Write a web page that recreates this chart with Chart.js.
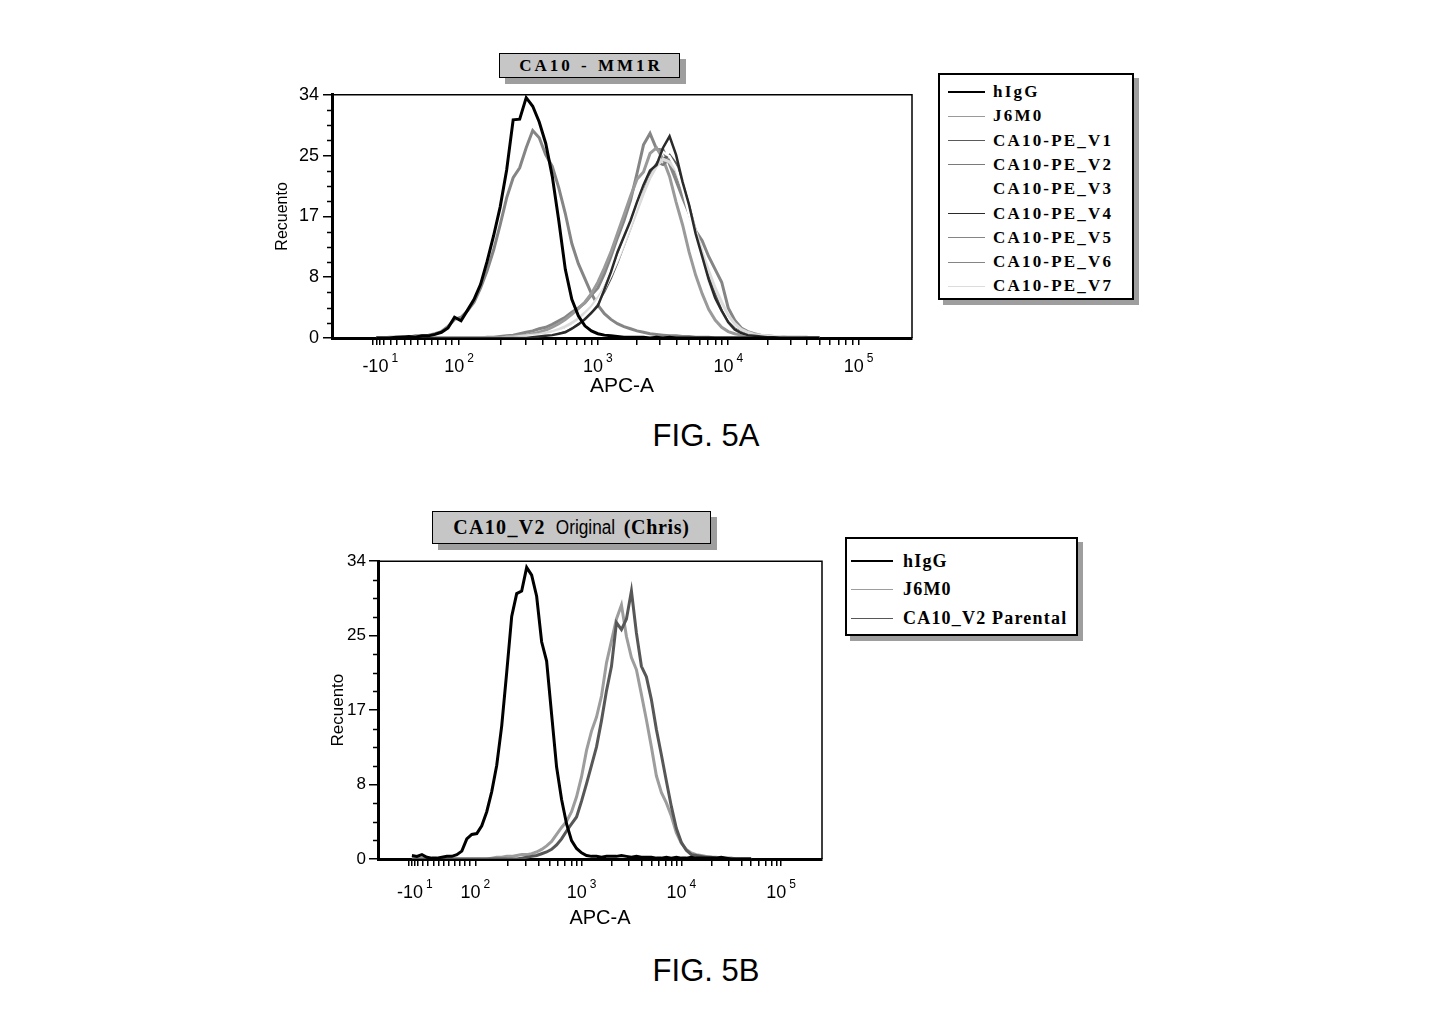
<!DOCTYPE html>
<html>
<head>
<meta charset="utf-8">
<script src="https://cdn.jsdelivr.net/npm/chart.js@4.4.1/dist/chart.umd.min.js"></script>
<style>
  body { margin: 0; background: #fff; width: 1433px; height: 1026px; position: relative; overflow: hidden;
         font-family: "Liberation Sans", Arial, sans-serif; color: #000; }
  canvas { position: absolute; }
  .titlebox { position: absolute; box-sizing: border-box; background: #c6c6c6; border: 1.5px solid #000;
              box-shadow: 6px 6px 0 #9e9e9e; display: flex; align-items: center; justify-content: center; white-space: nowrap; }
  .serifb { font-family: "Liberation Serif", "DejaVu Serif", serif; font-weight: bold; }
  .legend { position: absolute; box-sizing: border-box; background: #fff; border: 2px solid #000; box-shadow: 5px 5px 0 #9e9e9e; }
  .row { position: absolute; display: flex; align-items: center; white-space: nowrap; }
  .swatch { display: inline-block; height: 0; border-top-style: solid; }
  .fig { position: absolute; font-size: 31px; width: 300px; text-align: center; }
</style>
</head>
<body>

<div class="titlebox serifb" style="left:499px;top:53px;width:181px;height:25px;font-size:17px;letter-spacing:3px;word-spacing:1px;padding-left:3px;">CA10 - MM1R</div>
<canvas id="chartA" width="649" height="319" style="left:273px;top:80px;"></canvas>
<div id="legendA" class="legend" style="left:938px;top:73px;width:196px;height:227px;"></div>
<div class="fig" style="left:556px;top:418px;">FIG. 5A</div>

<div class="titlebox" style="left:432px;top:511px;width:279px;height:33px;">
  <span class="serifb" style="font-size:20px;letter-spacing:1.3px;">CA10_V2</span>
  <span style="font-size:20px;margin-left:5px;transform:scaleX(0.86);display:inline-block;">Original</span>
  <span class="serifb" style="font-size:20px;margin-left:4px;letter-spacing:0.7px;">(Chris)</span>
</div>
<canvas id="chartB" width="504" height="382" style="left:328px;top:548px;"></canvas>
<div id="legendB" class="legend" style="left:845px;top:537px;width:233px;height:99px;"></div>
<div class="fig" style="left:556px;top:953px;">FIG. 5B</div>

<script>
// histogram bin centres, in display units of the biexponential axis (10^3 = 3, 10^4 = 4 ...)
const binCenters = [1.30, 1.35, 1.40, 1.45, 1.50, 1.55, 1.60, 1.65, 1.70, 1.75,
  1.80, 1.85, 1.90, 1.95, 2.00, 2.05, 2.10, 2.15, 2.20, 2.25,
  2.30, 2.35, 2.40, 2.45, 2.50, 2.55, 2.60, 2.65, 2.70, 2.75,
  2.80, 2.85, 2.90, 2.95, 3.00, 3.05, 3.10, 3.15, 3.20, 3.25,
  3.30, 3.35, 3.40, 3.45, 3.50, 3.55, 3.60, 3.65, 3.70, 3.75,
  3.80, 3.85, 3.90, 3.95, 4.00, 4.05, 4.10, 4.15, 4.20, 4.25,
  4.30, 4.35, 4.40, 4.45, 4.50, 4.55, 4.60, 4.65, 4.70];

// axis ticks
const xMin = 0.96, xMax = 5.41;
const xMajorPos = [1.33, 1.935, 3, 4, 5];
const xMajorBase = ["-10", "10", "10", "10", "10"];
const xMajorExp = ["1", "2", "3", "4", "5"];
const xTickPos = [1.27, 1.30, 1.33, 1.36, 1.41, 1.46, 1.515, 1.565, 1.62, 1.67, 1.725, 1.775, 1.83, 1.88, 1.935,
  2.256, 2.443, 2.576, 2.679, 2.764, 2.835, 2.897, 2.951, 3,
  3.301, 3.477, 3.602, 3.699, 3.778, 3.845, 3.903, 3.954, 4,
  4.301, 4.477, 4.602, 4.699, 4.778, 4.845, 4.903, 4.954, 5];
const yMax = 34;
const yMajorPos = [0, 8.5, 17, 25.5, 34];
const yMajorLabels = ["0", "8", "17", "25", "34"];
const yMinorPos = [2.125, 4.25, 6.375, 10.625, 12.75, 14.875, 19.125, 21.25, 23.375, 27.625, 29.75, 31.875];

// FIG. 5A  (CA10 - MM1R)
const labelsA = ["hIgG", "J6M0", "CA10-PE_V1", "CA10-PE_V2", "CA10-PE_V3", "CA10-PE_V4", "CA10-PE_V5", "CA10-PE_V6", "CA10-PE_V7"];
const aHIgG = [0, 0, 0, 0.1, 0.1, 0.2, 0.1, 0.3, 0.3, 0.5,
  0.8, 1.4, 2.9, 2.4, 3.9, 5.4, 7.5, 10.7, 14.3, 18.3,
  23.5, 30.5, 30.6, 33.6, 32.4, 30.2, 27.2, 22.6, 16.4, 9.6,
  5.4, 3.1, 1.7, 1.0, 0.6, 0.4, 0.3, 0.2, 0.1, 0.1,
  0.1, 0.1, 0, 0.1, 0, 0.1, 0, 0, 0, 0,
  0, 0, 0, 0, 0, 0, 0, 0, 0, 0,
  0, 0, 0, 0, 0, 0, 0, 0, 0];
const aJ6M0 = [0, 0, 0, 0, 0, 0, 0, 0, 0, 0,
  0, 0, 0, 0, 0, 0, 0, 0, 0, 0,
  0.1, 0.2, 0.3, 0.4, 0.6, 0.8, 1.1, 1.5, 2.0, 2.6,
  3.3, 4.1, 5.0, 6.2, 7.8, 9.8, 12.0, 14.6, 17.2, 19.8,
  22.2, 23.2, 25.8, 26.6, 25.0, 22.6, 19.0, 15.8, 12.0, 8.8,
  6.2, 4.0, 2.5, 1.5, 0.9, 0.6, 0.4, 0.3, 0.2, 0.1,
  0.1, 0, 0, 0, 0, 0, 0, 0, 0];
const aV1 = [0, 0, 0, 0, 0, 0, 0, 0, 0, 0,
  0, 0, 0, 0, 0, 0, 0, 0, 0, 0,
  0, 0, 0.1, 0.1, 0.2, 0.3, 0.4, 0.6, 0.8, 1.1,
  1.5, 2.1, 2.9, 3.8, 5.0, 6.5, 8.4, 10.6, 13.0, 15.4,
  18.0, 20.4, 22.6, 24.2, 25.0, 25.6, 24.4, 21.6, 18.4, 15.0,
  11.6, 8.6, 6.0, 3.8, 2.2, 1.3, 0.8, 0.5, 0.3, 0.2,
  0.1, 0.1, 0, 0, 0, 0, 0, 0, 0];
const aV2 = [0, 0, 0, 0, 0, 0, 0, 0, 0, 0,
  0, 0, 0, 0, 0, 0, 0, 0, 0, 0,
  0, 0.1, 0.1, 0.2, 0.3, 0.4, 0.5, 0.7, 1.0, 1.3,
  1.8, 2.4, 3.2, 4.2, 5.4, 7.0, 9.0, 11.2, 13.6, 16.0,
  18.8, 21.2, 23.0, 24.6, 24.2, 25.0, 23.0, 20.6, 17.4, 14.2,
  11.0, 8.0, 5.6, 3.6, 2.1, 1.2, 0.7, 0.4, 0.3, 0.2,
  0.1, 0, 0, 0, 0, 0, 0, 0, 0];
const aV3 = [0, 0, 0, 0, 0, 0, 0, 0, 0, 0,
  0, 0, 0, 0, 0, 0, 0, 0, 0, 0,
  0, 0, 0.1, 0.1, 0.2, 0.3, 0.4, 0.6, 0.9, 1.2,
  1.7, 2.3, 3.1, 4.0, 5.2, 6.8, 8.8, 11.0, 13.4, 16.0,
  18.6, 21.4, 23.6, 25.0, 26.0, 25.4, 23.8, 20.8, 17.2, 13.8,
  10.6, 7.8, 5.4, 3.4, 2.0, 1.2, 0.7, 0.4, 0.3, 0.2,
  0.1, 0, 0, 0, 0, 0, 0, 0, 0];
const aV4 = [0, 0, 0, 0, 0, 0, 0, 0, 0, 0,
  0, 0, 0, 0, 0, 0, 0, 0, 0, 0,
  0, 0, 0, 0, 0.1, 0.2, 0.3, 0.4, 0.6, 0.8,
  1.3, 1.9, 2.6, 3.5, 4.5, 6.8, 9.2, 12.0, 14.2, 16.4,
  19.0, 21.4, 23.4, 24.2, 26.6, 28.2, 25.6, 21.8, 18.6, 14.6,
  11.4, 8.2, 5.6, 3.8, 2.2, 1.2, 0.7, 0.4, 0.3, 0.2,
  0.1, 0.1, 0, 0, 0, 0, 0, 0, 0];
const aV5 = [0, 0, 0, 0, 0, 0, 0, 0, 0, 0,
  0, 0, 0, 0, 0, 0, 0, 0.1, 0.1, 0.2,
  0.3, 0.4, 0.6, 0.8, 1.0, 1.3, 1.5, 1.9, 2.4, 2.9,
  3.6, 4.2, 4.9, 6.0, 7.0, 9.0, 11.4, 14.0, 16.4, 19.2,
  23.0, 27.0, 28.6, 26.4, 26.3, 24.3, 22.0, 19.6, 17.4, 15.0,
  13.6, 11.4, 9.6, 7.8, 4.2, 2.5, 1.4, 0.9, 0.6, 0.4,
  0.3, 0.2, 0.2, 0.1, 0.1, 0.1, 0.1, 0, 0];
const aV6 = [0, 0, 0.1, 0.1, 0.2, 0.1, 0.3, 0.3, 0.4, 0.6,
  0.9, 1.6, 2.6, 2.9, 3.8, 5.0, 7.0, 9.4, 12.3, 15.8,
  19.6, 22.4, 23.8, 26.6, 29.0, 28.0, 25.6, 24.0, 21.0, 17.4,
  13.2, 10.4, 8.3, 6.2, 4.6, 3.4, 2.6, 2.0, 1.6, 1.3,
  1.0, 0.8, 0.6, 0.5, 0.4, 0.3, 0.3, 0.2, 0.2, 0.1,
  0.1, 0.1, 0, 0, 0, 0, 0, 0, 0, 0,
  0, 0, 0, 0, 0, 0, 0, 0, 0];
const aV7 = [0, 0, 0, 0, 0, 0, 0, 0, 0, 0,
  0, 0, 0, 0, 0, 0, 0, 0, 0, 0,
  0.1, 0.1, 0.2, 0.3, 0.4, 0.5, 0.7, 0.9, 1.2, 1.6,
  2.1, 2.7, 3.5, 4.4, 5.6, 7.0, 8.8, 10.8, 13.0, 15.4,
  17.8, 20.2, 22.4, 24.0, 25.0, 24.6, 23.4, 21.0, 18.2, 15.0,
  12.0, 9.4, 7.0, 5.0, 3.2, 2.0, 1.2, 0.8, 0.5, 0.4,
  0.3, 0.2, 0.2, 0.1, 0.1, 0.1, 0, 0, 0];

// FIG. 5B  (CA10_V2 Original (Chris))
const labelsB = ["hIgG", "J6M0", "CA10_V2 Parental"];
const bHIgG = [0.4, 0.3, 0.5, 0.2, 0.1, 0.1, 0.2, 0.3, 0.3, 0.5,
  0.9, 2.3, 2.8, 2.9, 3.8, 5.4, 7.7, 10.7, 15.2, 21.3,
  27.7, 30.3, 30.6, 33.3, 32.4, 30.0, 24.8, 22.6, 16.5, 10.5,
  6.8, 4.0, 2.1, 1.2, 0.7, 0.4, 0.3, 0.3, 0.2, 0.3,
  0.3, 0.3, 0.4, 0.3, 0.2, 0.3, 0.2, 0.2, 0.2, 0.1,
  0.1, 0.2, 0.1, 0.2, 0.1, 0.1, 0.2, 0.1, 0.1, 0.1,
  0.1, 0.1, 0.2, 0.1, 0, 0, 0, 0, 0];
const bJ6M0 = [0, 0, 0, 0, 0, 0, 0, 0, 0, 0,
  0, 0, 0, 0, 0, 0, 0.1, 0.2, 0.2, 0.3,
  0.3, 0.4, 0.5, 0.5, 0.6, 0.8, 1.1, 1.5, 2.0, 2.8,
  3.6, 4.3, 5.4, 7.1, 9.4, 12.4, 14.6, 16.2, 18.6, 22.4,
  24.9, 27.4, 29.0, 25.4, 23.0, 21.6, 18.8, 15.9, 12.8, 9.5,
  7.6, 6.4, 4.9, 3.0, 1.8, 1.1, 0.7, 0.5, 0.4, 0.3,
  0.2, 0.2, 0.1, 0.1, 0.1, 0, 0, 0, 0];
const bParental = [0, 0, 0, 0, 0, 0, 0, 0, 0, 0,
  0, 0, 0, 0, 0, 0, 0, 0, 0, 0,
  0, 0, 0.1, 0.2, 0.3, 0.4, 0.6, 0.8, 1.1, 1.6,
  2.3, 3.2, 4.0, 4.8, 6.6, 8.6, 10.7, 12.8, 15.8, 19.2,
  22.0, 27.0, 26.2, 27.4, 30.6, 25.8, 22.0, 20.8, 18.2, 14.8,
  11.9, 8.9, 6.0, 3.5, 1.9, 1.0, 0.5, 0.4, 0.3, 0.2,
  0.2, 0.1, 0.1, 0, 0, 0, 0, 0, 0];

// line styles (order: lower = drawn on top)
const stylesA = [
  { color: "#000000", width: 3, order: 0 },
  { color: "#9a9a9a", width: 3, order: 6 },
  { color: "#5a5a5a", width: 2.5, order: 4 },
  { color: "#7a7a7a", width: 2.5, order: 5 },
  { color: "#ffffff", width: 2.5, order: 2 },
  { color: "#2a2a2a", width: 2.5, order: 1 },
  { color: "#858585", width: 3, order: 7 },
  { color: "#858585", width: 3, order: 8 },
  { color: "#dcdcdc", width: 3, order: 3 }
];
const stylesB = [
  { color: "#000000", width: 3, order: 0 },
  { color: "#9d9d9d", width: 3, order: 2 },
  { color: "#575757", width: 3, order: 1 }
];

const FONT = '"Liberation Sans", "DejaVu Sans", Arial, sans-serif';

// top and right frame, short minor ticks on the count axis, power-of-ten labels
const framePlugin = {
  id: "frame",
  afterDraw(chart) {
    const { ctx, chartArea: a, scales } = chart;
    const geo = chart.options.plugins.frame;
    ctx.save();
    ctx.strokeStyle = "#000";
    ctx.lineWidth = 1.5;
    ctx.beginPath();
    ctx.moveTo(a.left, a.top); ctx.lineTo(a.right, a.top); ctx.lineTo(a.right, a.bottom);
    ctx.stroke();
    ctx.beginPath();
    yMinorPos.forEach(v => {
      const py = Math.round(scales.y.getPixelForValue(v)) + 0.5;
      ctx.moveTo(a.left - 5, py); ctx.lineTo(a.left, py);
    });
    ctx.stroke();
    ctx.fillStyle = "#000";
    ctx.textBaseline = "middle";
    ctx.textAlign = "left";
    const y0 = a.bottom + geo.labelOffset;
    xMajorPos.forEach((v, i) => {
      const px = scales.x.getPixelForValue(v);
      ctx.font = geo.baseSize + "px " + FONT;
      const wb = ctx.measureText(xMajorBase[i]).width;
      ctx.font = geo.expSize + "px " + FONT;
      const we = ctx.measureText(xMajorExp[i]).width;
      const x0 = px - (wb + 3 + we) / 2;
      ctx.font = geo.baseSize + "px " + FONT;
      ctx.fillText(xMajorBase[i], x0, y0);
      ctx.font = geo.expSize + "px " + FONT;
      ctx.fillText(xMajorExp[i], x0 + wb + 3, y0 - geo.baseSize * 0.45);
    });
    ctx.restore();
  }
};

function histChart(id, labels, valueSets, styles, geo) {
  return new Chart(document.getElementById(id), {
    type: "line",
    data: {
      datasets: labels.map((label, k) => ({
        label: label,
        data: binCenters.map((x, i) => ({ x: x, y: valueSets[k][i] })),
        borderColor: styles[k].color,
        borderWidth: styles[k].width,
        order: styles[k].order,
        tension: 0,
        pointRadius: 0,
        fill: false
      }))
    },
    options: {
      responsive: false,
      animation: false,
      layout: { padding: { top: 12, right: 10, left: 0, bottom: 0 } },
      plugins: {
        legend: { display: false }, tooltip: { enabled: false },
        frame: { labelOffset: geo.labelOffset, baseSize: geo.xTickSize, expSize: geo.expSize }
      },
      scales: {
        x: {
          type: "linear", min: xMin, max: xMax, z: 1,
          afterBuildTicks: sc => { sc.ticks = xTickPos.map(v => ({ value: v })); },
          afterFit: sc => { sc.height = geo.xHeight; },
          ticks: { autoSkip: false, maxRotation: 0, color: "#000", padding: 4, callback: () => "" },
          grid: { drawOnChartArea: false, tickLength: 7, color: "#000", lineWidth: 1.5 },
          border: { color: "#000", width: 3 },
          title: { display: true, text: "APC-A", color: "#000", padding: 0, font: { family: FONT, size: geo.xTitleSize } }
        },
        y: {
          type: "linear", min: 0, max: yMax, z: 1,
          afterBuildTicks: sc => { sc.ticks = yMajorPos.map(v => ({ value: v })); },
          afterFit: sc => { sc.width = geo.yWidth; },
          ticks: {
            color: "#000", padding: geo.yPad, font: { family: FONT, size: geo.yTickSize },
            callback: v => { const k = yMajorPos.indexOf(v); return k < 0 ? "" : yMajorLabels[k]; }
          },
          grid: { drawOnChartArea: false, tickLength: 9, color: "#000", lineWidth: 1.5 },
          border: { color: "#000", width: 3 },
          title: { display: true, text: "Recuento", color: "#000", padding: 0, font: { family: FONT, size: geo.yTitleSize } }
        }
      }
    },
    plugins: [framePlugin]
  });
}

function buildLegend(id, labels, styles, geo) {
  const box = document.getElementById(id);
  labels.forEach((label, i) => {
    const row = document.createElement("div");
    row.className = "row";
    row.style.left = geo.left + "px";
    row.style.top = (geo.first + geo.step * i - geo.rowH / 2) + "px";
    row.style.height = geo.rowH + "px";
    const sw = document.createElement("span");
    sw.className = "swatch";
    sw.style.width = geo.lineW + "px";
    sw.style.borderTopWidth = (i === 0 ? 2 : 1.5) + "px";
    sw.style.borderTopColor = styles[i].color;
    const tx = document.createElement("span");
    tx.className = "serifb";
    tx.textContent = label;
    tx.style.fontSize = geo.fontSize + "px";
    tx.style.letterSpacing = geo.spacing + "px";
    tx.style.marginLeft = geo.gap + "px";
    row.appendChild(sw);
    row.appendChild(tx);
    box.appendChild(row);
  });
}

histChart("chartA", labelsA, [aHIgG, aJ6M0, aV1, aV2, aV3, aV4, aV5, aV6, aV7], stylesA,
  { xHeight: 61, labelOffset: 29, yWidth: 59, yPad: 4, xTickSize: 18, expSize: 12, yTickSize: 18, xTitleSize: 21, yTitleSize: 16 });
histChart("chartB", labelsB, [bHIgG, bJ6M0, bParental], stylesB,
  { xHeight: 71, labelOffset: 34, yWidth: 50, yPad: 3, xTickSize: 18, expSize: 12, yTickSize: 17, xTitleSize: 20, yTitleSize: 17 });

buildLegend("legendA", labelsA, stylesA,
  { left: 8, first: 17, step: 24.3, rowH: 22, lineW: 37, gap: 8, fontSize: 17, spacing: 2.2 });
buildLegend("legendB", labelsB, stylesB,
  { left: 4, first: 22, step: 28.5, rowH: 26, lineW: 42, gap: 10, fontSize: 18, spacing: 1.2 });
</script>
</body>
</html>
